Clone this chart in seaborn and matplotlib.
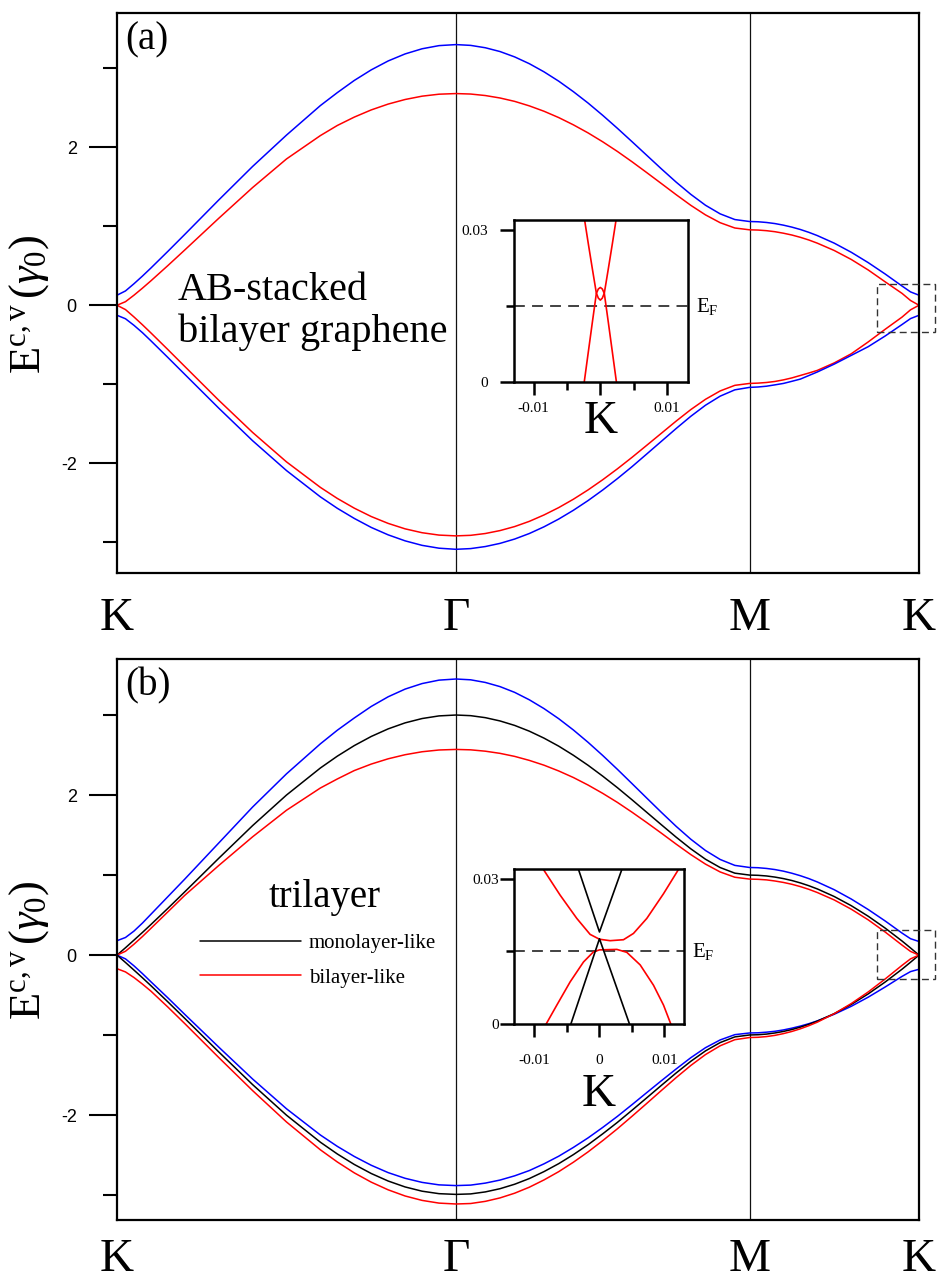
import matplotlib
matplotlib.use("Agg")
import matplotlib.pyplot as plt
import matplotlib.transforms as mtransforms
from matplotlib.patches import Rectangle
import numpy as np
import seaborn as sns

# ---------------------------------------------------------------
# Band energies (units of gamma_0) along the K - Gamma - M - K path
# path coordinate: |K Gamma| = 1, |Gamma M| = 0.866, |M K| = 0.5
# ---------------------------------------------------------------
k_path = [0.0, 0.025, 0.05, 0.075, 0.1, 0.15, 0.2, 0.3, 0.4, 0.5, 0.6, 0.65, 0.7, 0.75, 0.8, 0.85, 0.9, 0.95, 1.0,
          1.0433, 1.0866, 1.1299, 1.1732, 1.2165, 1.2598, 1.3031, 1.3464, 1.3897, 1.433,
          1.4763, 1.5196, 1.5629, 1.6062, 1.6495, 1.6928, 1.7361, 1.7794, 1.8227, 1.866,
          1.891, 1.916, 1.941, 1.966, 1.991, 2.016, 2.041, 2.066, 2.116, 2.166, 2.216, 2.266, 2.316, 2.341, 2.366]
sym_pos = [0.0, 1.0, 1.866, 2.366]
sym_labels = ["K", "Γ", "M", "K"]

# (a) AB-stacked bilayer
a_blue_up = [0.127, 0.181, 0.272, 0.369, 0.471, 0.682, 0.897, 1.332, 1.757, 2.154, 2.528, 2.692, 2.846, 2.980,
             3.093, 3.182, 3.247, 3.287, 3.30,
             3.290, 3.260, 3.212, 3.144, 3.058, 2.955, 2.837, 2.704, 2.560, 2.404,
             2.240, 2.070, 1.898, 1.726, 1.559, 1.404, 1.266, 1.157, 1.085, 1.06,
             1.057, 1.048, 1.034, 1.014, 0.989, 0.959, 0.923, 0.882, 0.786, 0.671, 0.540, 0.396, 0.243, 0.169, 0.127]
a_red_up = [0.0, 0.045, 0.127, 0.216, 0.309, 0.502, 0.700, 1.100, 1.490, 1.852, 2.148, 2.276, 2.382, 2.473,
            2.547, 2.605, 2.647, 2.672, 2.68,
            2.674, 2.655, 2.624, 2.581, 2.524, 2.456, 2.376, 2.284, 2.182, 2.069,
            1.947, 1.816, 1.679, 1.540, 1.400, 1.265, 1.144, 1.045, 0.978, 0.955,
            0.952, 0.944, 0.931, 0.912, 0.889, 0.860, 0.826, 0.786, 0.693, 0.580, 0.447, 0.297, 0.150, 0.060, 0.0]
a_red_dn = [0.0, -0.055, -0.148, -0.247, -0.350, -0.561, -0.775, -1.202, -1.610, -1.983, -2.306, -2.446, -2.569, -2.675,
            -2.762, -2.831, -2.880, -2.910, -2.92,
            -2.913, -2.890, -2.853, -2.802, -2.736, -2.655, -2.562, -2.456, -2.338, -2.209,
            -2.071, -1.925, -1.773, -1.620, -1.467, -1.321, -1.191, -1.085, -1.014, -0.99,
            -0.986, -0.978, -0.965, -0.945, -0.920, -0.889, -0.858, -0.825, -0.730, -0.615, -0.465, -0.305, -0.150,
            -0.058, 0.0]
a_blue_dn = [-0.127, -0.171, -0.254, -0.347, -0.450, -0.661, -0.875, -1.302, -1.715, -2.093, -2.426, -2.571, -2.699,
             -2.813, -2.907, -2.983, -3.040, -3.076, -3.09,
             -3.081, -3.055, -3.015, -2.960, -2.890, -2.805, -2.707, -2.596, -2.473, -2.339,
             -2.195, -2.043, -1.883, -1.722, -1.561, -1.406, -1.266, -1.151, -1.071, -1.04,
             -1.035, -1.025, -1.008, -0.990, -0.963, -0.935, -0.890, -0.845, -0.745, -0.635, -0.525, -0.390, -0.244,
             -0.169, -0.127]

# (b) trilayer
b_blue_up = [0.18, 0.22, 0.30, 0.40, 0.51, 0.73, 0.95, 1.40, 1.85, 2.265, 2.64, 2.81, 2.963, 3.107,
             3.228, 3.324, 3.393, 3.436, 3.45,
             3.440, 3.407, 3.355, 3.283, 3.190, 3.080, 2.954, 2.813, 2.659, 2.494,
             2.321, 2.142, 1.962, 1.783, 1.609, 1.448, 1.307, 1.195, 1.121, 1.095,
             1.092, 1.083, 1.069, 1.049, 1.023, 0.992, 0.956, 0.914, 0.817, 0.701, 0.570, 0.427, 0.275, 0.205, 0.17]
b_black_up = [0.0, 0.092, 0.187, 0.283, 0.382, 0.584, 0.791, 1.209, 1.618, 2.0, 2.338, 2.486, 2.618, 2.732,
              2.827, 2.902, 2.956, 2.989, 3.0,
              2.992, 2.967, 2.926, 2.870, 2.798, 2.711, 2.611, 2.497, 2.372, 2.236,
              2.092, 1.940, 1.784, 1.628, 1.474, 1.328, 1.198, 1.094, 1.024, 1.0,
              0.997, 0.989, 0.975, 0.956, 0.932, 0.902, 0.867, 0.827, 0.732, 0.618, 0.486, 0.338, 0.176, 0.089, 0.0]
b_red_up = [0.0, 0.048, 0.136, 0.232, 0.334, 0.540, 0.747, 1.119, 1.478, 1.810, 2.088, 2.201, 2.306, 2.387,
            2.453, 2.504, 2.541, 2.563, 2.57,
            2.565, 2.548, 2.521, 2.483, 2.433, 2.373, 2.301, 2.219, 2.125, 2.021,
            1.908, 1.785, 1.656, 1.523, 1.387, 1.256, 1.137, 1.039, 0.973, 0.95,
            0.947, 0.940, 0.926, 0.908, 0.885, 0.856, 0.822, 0.782, 0.689, 0.574, 0.441, 0.289, 0.125, 0.046, 0.0]
b_blue_dn = [0.0, -0.047, -0.134, -0.231, -0.333, -0.534, -0.741, -1.149, -1.548, -1.920, -2.248, -2.390, -2.516,
             -2.626, -2.718, -2.789, -2.840, -2.871, -2.88,
             -2.874, -2.849, -2.811, -2.758, -2.692, -2.608, -2.513, -2.403, -2.284, -2.153,
             -2.015, -1.868, -1.718, -1.569, -1.423, -1.282, -1.157, -1.060, -0.994, -0.973,
             -0.971, -0.963, -0.952, -0.935, -0.913, -0.887, -0.857, -0.822, -0.739, -0.640, -0.526, -0.399, -0.266,
             -0.206, -0.177]
b_black_dn = [0.0, -0.092, -0.187, -0.283, -0.382, -0.584, -0.791, -1.209, -1.618, -2.0, -2.338, -2.485, -2.616,
              -2.729, -2.823, -2.897, -2.950, -2.981, -2.99,
              -2.984, -2.959, -2.919, -2.863, -2.792, -2.705, -2.606, -2.493, -2.369, -2.233,
              -2.090, -1.938, -1.783, -1.627, -1.473, -1.327, -1.197, -1.093, -1.022, -0.998,
              -0.995, -0.987, -0.973, -0.954, -0.930, -0.900, -0.865, -0.825, -0.731, -0.617, -0.485, -0.337, -0.176,
              -0.089, 0.0]
b_red_dn = [-0.17, -0.210, -0.280, -0.362, -0.450, -0.649, -0.856, -1.279, -1.693, -2.085, -2.433, -2.585, -2.721,
            -2.837, -2.933, -3.010, -3.065, -3.099, -3.11,
            -3.104, -3.077, -3.034, -2.975, -2.900, -2.809, -2.706, -2.588, -2.459, -2.318,
            -2.170, -2.013, -1.853, -1.691, -1.531, -1.379, -1.243, -1.133, -1.057, -1.03,
            -1.027, -1.018, -1.003, -0.981, -0.954, -0.921, -0.882, -0.838, -0.732, -0.606, -0.461, -0.299, -0.128,
            -0.047, 0.0]

# ---------------------------------------------------------------
# Close-up of the bands near K (inset energies shifted, E_F = 0.015)
# ---------------------------------------------------------------
e_fermi = 0.015

ins_a_k = [-0.0025, -0.0018, -0.0012, -0.0006, -0.0003, 0.0, 0.0003, 0.0006, 0.0012, 0.0018, 0.0025]
ins_a_cond = [0.0332, 0.0273, 0.0224, 0.0176, 0.0166, 0.0162, 0.0166, 0.0176, 0.0224, 0.0273, 0.0332]
ins_a_val = [-0.0008, 0.0060, 0.0118, 0.0175, 0.0184, 0.0187, 0.0184, 0.0175, 0.0118, 0.0060, -0.0008]

ins_b_k_cond = [-0.0090, -0.00862, -0.00605, -0.00349, -0.00144, 0.0, 0.00164, 0.00369, 0.00523, 0.00728,
                0.00985, 0.01215, 0.0126]
ins_b_cond = [0.0342, 0.0319, 0.0266, 0.0218, 0.0185, 0.0175, 0.0172, 0.0174, 0.0187, 0.0218,
              0.0269, 0.0319, 0.0330]
ins_b_k_val = [-0.0084, -0.0082, -0.00656, -0.00451, -0.00246, -0.00092, 0.0, 0.00267, 0.0042, 0.00626,
               0.00831, 0.00985, 0.01097, 0.0112]
ins_b_val = [-0.0005, 0.0, 0.0039, 0.0087, 0.0128, 0.0149, 0.0153, 0.0154, 0.0148, 0.0122,
             0.0080, 0.0039, 0.0, -0.0006]
ins_b_k_mono_up = [-0.0034, 0.0, 0.0036]
ins_b_mono_up = [0.0326, 0.0190, 0.0325]
ins_b_k_mono_dn = [-0.0046, 0.0, 0.0048]
ins_b_mono_dn = [-0.0008, 0.0176, -0.0007]

# ---------------------------------------------------------------
sns.set_theme(style="white")
plt.rcParams.update({
    "font.family": ["Liberation Serif", "DejaVu Serif"],
    "mathtext.fontset": "custom",
    "mathtext.rm": "Liberation Serif",
    "mathtext.it": "Liberation Serif:italic",
    "mathtext.bf": "Liberation Serif:bold",
    "text.color": "black",
    "axes.labelcolor": "black",
    "axes.edgecolor": "black",
    "axes.linewidth": 1.6,
    "xtick.color": "black",
    "ytick.color": "black",
    "lines.solid_joinstyle": "round",
})

W, H = 948, 1284
fig = plt.figure(figsize=(W / 100, H / 100), dpi=100)


def px_axes(left, top, right, bottom):
    return fig.add_axes([left / W, 1 - bottom / H, (right - left) / W, (bottom - top) / H])


BLUE, RED, BLACK = "#0000ff", "#ff0000", "#000000"
LW = 1.1


def band(ax, x, y, color, lw=LW):
    sns.lineplot(x=np.asarray(x), y=np.asarray(y), ax=ax, color=color, linewidth=lw,
                 sort=False, estimator=None, legend=False)


def main_panel(ax, curves, ylim, tag, box, label_pad):
    for y, c in curves:
        band(ax, k_path, y, c)
    for xv in sym_pos[1:3]:
        ax.axvline(xv, color="#111111", lw=0.9, zorder=0)
    ax.set_xlim(sym_pos[0], sym_pos[-1])
    ax.set_ylim(*ylim)
    ax.set_xticks(sym_pos)
    ax.set_xticklabels(sym_labels, fontsize=34)
    ax.tick_params(axis="x", length=0, pad=label_pad)
    ax.set_yticks([-2, 0, 2])
    ax.set_yticklabels(["-2", "0", "2"], fontsize=13, family="Liberation Sans")
    ax.set_yticks([-3, -1, 1, 3], minor=True)
    ax.tick_params(axis="y", which="major", direction="out", length=20, width=1.5, pad=9, left=True)
    ax.tick_params(axis="y", which="minor", direction="out", length=10, width=1.5, left=True)
    ax.set_xlabel("")
    ax.set_ylabel(r"$\mathrm{E}^{\mathrm{c,v}}\,(\gamma_0)$", fontsize=32)
    ax.yaxis.set_label_coords(-0.082, 0.48)
    for s in ax.spines.values():
        s.set_linewidth(1.6)
    ax.text(0.01, 0.985, tag, transform=ax.transAxes, fontsize=28, ha="left", va="top")
    x0, y0, x1, y1 = box
    ax.add_patch(Rectangle((x0, y0), x1 - x0, y1 - y0, fill=False, ec="#333333", lw=1.0,
                           ls=(0, (5, 3)), clip_on=False, zorder=5))


def inset_panel(ax, xlim, ylab_pad, xlab_pad, label_zero, k_y):
    ax.set_xlim(*xlim)
    ax.set_ylim(0, 0.032)
    ax.axhline(e_fermi, color="#333333", lw=1.3, ls=(0, (6, 4)), zorder=1)
    ax.set_yticks([0, 0.03])
    ax.set_yticklabels(["0", "0.03"], fontsize=11)
    ax.set_yticks([e_fermi], minor=True)
    ax.set_xticks([-0.01, 0, 0.01])
    ax.set_xticklabels(["-0.01", "0" if label_zero else "", "0.01"], fontsize=11)
    ax.set_xticks([-0.005, 0.005], minor=True)
    ax.tick_params(axis="y", which="major", direction="out", length=10, width=1.8, pad=ylab_pad, left=True)
    ax.tick_params(axis="y", which="minor", direction="out", length=5.5, width=1.8, left=True)
    ax.tick_params(axis="x", which="major", direction="out", length=9.5, width=1.8, pad=xlab_pad, bottom=True)
    ax.tick_params(axis="x", which="minor", direction="out", length=5.5, width=1.8, bottom=True)
    ax.set_xlabel("")
    ax.set_ylabel("")
    for s in ax.spines.values():
        s.set_linewidth(1.8)
    tr = mtransforms.blended_transform_factory(ax.transAxes, ax.transData)
    ax.text(1.05, e_fermi, r"$\mathrm{E}_{\mathrm{F}}$", transform=tr, fontsize=15, ha="left", va="center")
    ax.text(0.5, k_y, "K", transform=ax.transAxes, fontsize=34, ha="center", va="baseline")


# ---------------- panel (a) ----------------
ax_a = px_axes(117, 13, 919, 573)
main_panel(ax_a,
           [(a_blue_up, BLUE), (a_red_up, RED), (a_red_dn, RED), (a_blue_dn, BLUE)],
           (-3.39, 3.70), "(a)", (2.241, -0.333, 2.413, 0.275), 18)
ax_a.text(0.18, 0.07, "AB-stacked", fontsize=29, ha="left", va="baseline")
ax_a.text(0.18, -0.47, "bilayer graphene", fontsize=29, ha="left", va="baseline")

ins_a = px_axes(514.3, 220, 687.7, 382.3)
band(ins_a, ins_a_k, ins_a_cond, RED, 1.2)
band(ins_a, ins_a_k, ins_a_val, RED, 1.2)
inset_panel(ins_a, (-0.0129, 0.0131), 9, 5, False, -0.31)

# ---------------- panel (b) ----------------
ax_b = px_axes(117, 659, 919, 1220)
main_panel(ax_b,
           [(b_blue_up, BLUE), (b_black_up, BLACK), (b_red_up, RED),
            (b_blue_dn, BLUE), (b_black_dn, BLACK), (b_red_dn, RED)],
           (-3.31, 3.70), "(b)", (2.241, -0.296, 2.413, 0.31), 13)
ax_b.text(0.448, 0.60, "trilayer", fontsize=28, ha="left", va="baseline")
ax_b.plot([0.245, 0.543], [0.179, 0.179], color=BLACK, lw=LW)
ax_b.plot([0.245, 0.543], [-0.25, -0.25], color=RED, lw=LW)
ax_b.text(0.566, 0.09, "monolayer-like", fontsize=15, ha="left", va="baseline")
ax_b.text(0.566, -0.345, "bilayer-like", fontsize=15, ha="left", va="baseline")

ins_b = px_axes(514.3, 869, 684, 1024)
band(ins_b, ins_b_k_cond, ins_b_cond, RED, 1.2)
band(ins_b, ins_b_k_val, ins_b_val, RED, 1.2)
band(ins_b, ins_b_k_mono_up, ins_b_mono_up, BLACK, 1.2)
band(ins_b, ins_b_k_mono_dn, ins_b_mono_dn, BLACK, 1.2)
inset_panel(ins_b, (-0.0131, 0.0130), 1, 12, True, -0.53)

fig.savefig("out.png", dpi=100, facecolor="white")
